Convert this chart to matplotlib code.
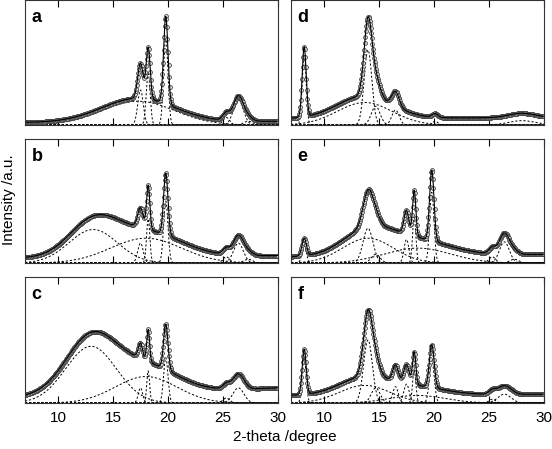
import numpy as np
import matplotlib
matplotlib.use("Agg")
import matplotlib.pyplot as plt

plt.rcParams['font.family'] = ['Liberation Sans', 'DejaVu Sans']

# peak parameters: centre (deg), height (frac of panel), sigma (deg)
a_centers = [17.3, 17.5, 18.2, 19.8, 25.3, 26.4, 27.3]
a_heights = [0.19, 0.28, 0.41, 0.70, 0.06, 0.20, 0.03]
a_widths = [3.3, 0.25, 0.18, 0.20, 0.30, 0.45, 0.40]
a_base = [0.02, 0.03]

b_centers = [13.2, 18.0, 17.5, 18.2, 19.8, 25.3, 26.4, 27.3]
b_heights = [0.27, 0.20, 0.16, 0.355, 0.50, 0.05, 0.16, 0.03]
b_widths = [2.2, 3.2, 0.25, 0.15, 0.20, 0.30, 0.45, 0.40]
b_base = [0.04, 0.06]

c_centers = [13.0, 18.0, 17.5, 18.2, 19.8, 25.3, 26.4]
c_heights = [0.45, 0.21, 0.12, 0.255, 0.36, 0.04, 0.12]
c_widths = [2.3, 2.8, 0.20, 0.13, 0.20, 0.30, 0.50]
c_base = [0.05, 0.12]

d_centers = [8.2, 13.7, 14.0, 14.7, 16.5, 20.1, 28.0]
d_heights = [0.56, 0.18, 0.60, 0.15, 0.12, 0.03, 0.035]
d_widths = [0.18, 2.5, 0.35, 0.40, 0.33, 0.25, 1.2]
d_base = [0.05, 0.06]

e_centers = [8.2, 14.0, 18.5, 14.0, 14.7, 17.5, 18.2, 19.8, 25.3, 26.4, 27.3]
e_heights = [0.14, 0.20, 0.12, 0.28, 0.07, 0.19, 0.37, 0.57, 0.05, 0.17, 0.03]
e_widths = [0.20, 2.3, 3.0, 0.45, 0.40, 0.22, 0.15, 0.20, 0.30, 0.45, 0.40]
e_base = [0.05, 0.07]

f_centers = [8.2, 13.7, 18.5, 14.0, 14.7, 16.5, 17.5, 18.2, 19.8, 25.3, 26.4]
f_heights = [0.36, 0.14, 0.06, 0.50, 0.12, 0.13, 0.15, 0.26, 0.34, 0.03, 0.07]
f_widths = [0.18, 2.3, 2.5, 0.40, 0.40, 0.25, 0.25, 0.15, 0.22, 0.30, 0.60]
f_base = [0.06, 0.07]

panels = {
    'a': (a_centers, a_heights, a_widths, a_base),
    'b': (b_centers, b_heights, b_widths, b_base),
    'c': (c_centers, c_heights, c_widths, c_base),
    'd': (d_centers, d_heights, d_widths, d_base),
    'e': (e_centers, e_heights, e_widths, e_base),
    'f': (f_centers, f_heights, f_widths, f_base),
}

x_min, x_max = 7, 30
two_theta = np.arange(x_min, x_max + 0.001, 0.05)

W, H = 552, 449
fig = plt.figure(figsize=(W / 100, H / 100), dpi=100)

col_left = [25, 291]
col_width = 253
row_box = [(0, 125), (139, 263), (277, 403)]
order = [['a', 'b', 'c'], ['d', 'e', 'f']]

for ci in range(2):
    for ri in range(3):
        name = order[ci][ri]
        top, bot = row_box[ri]
        ax = fig.add_axes([col_left[ci] / W, 1 - bot / H, col_width / W, (bot - top) / H])
        centers, heights, widths, base = panels[name]
        comps = [h * np.exp(-(two_theta - c) ** 2 / (2 * s ** 2))
                 for c, h, s in zip(centers, heights, widths)]
        baseline = base[0] + (base[1] - base[0]) * (two_theta - x_min) / (x_max - x_min)
        total = baseline + np.sum(comps, axis=0)

        for comp in comps:
            ax.plot(two_theta, comp, color='black', lw=0.7, ls=(0, (2.2, 2)))
        ax.plot(two_theta, total, 'o', ms=2.8, mfc='#e0e0e0', mec='#3a3a3a', mew=0.55)
        ax.plot(two_theta, total, color='black', lw=0.8)

        ax.set_xlim(x_min, x_max)
        ax.set_ylim(0, 1)
        ax.set_yticks([])
        ax.set_xticks([10, 15, 20, 25, 30])
        ax.tick_params(axis='x', direction='in', top=True, length=5, width=0.8,
                       labelsize=11, pad=6)
        if ri < 2:
            ax.tick_params(axis='x', labelbottom=False)
        for sp in ax.spines.values():
            sp.set_linewidth(0.8)
            sp.set_color('#333333')
        ax.text(0.025, 0.93, name, transform=ax.transAxes, ha='left', va='top',
                fontsize=13, fontweight='bold')

fig.text(285 / W, 1 - 437 / H, '2-theta /degree', ha='center', va='center', fontsize=11)
fig.text(9 / W, 1 - 200 / H, 'Intensity /a.u.', ha='center', va='center',
         rotation=90, fontsize=11)

fig.savefig('out.png', dpi=100)
